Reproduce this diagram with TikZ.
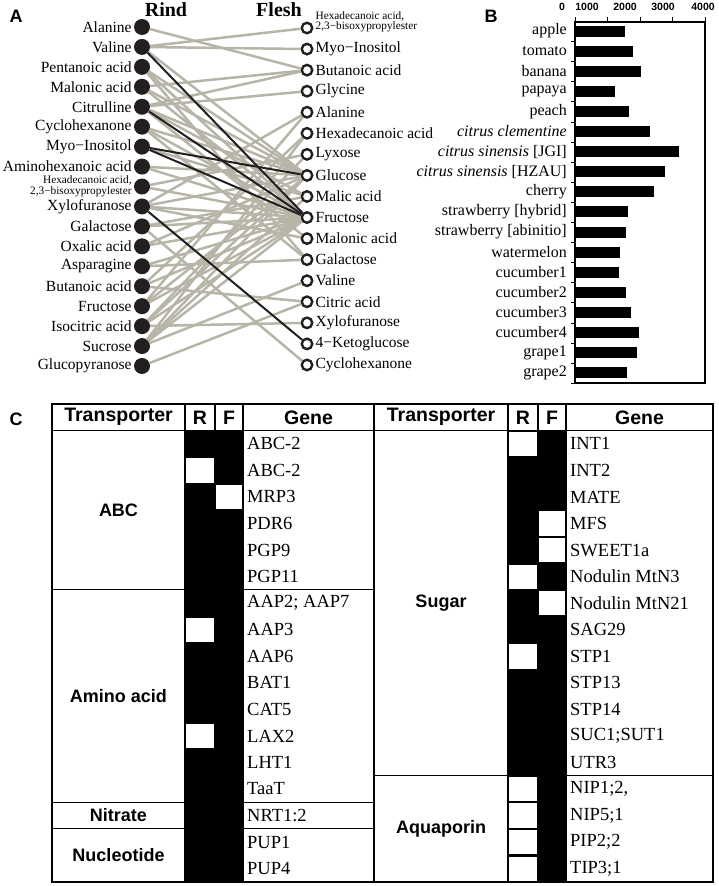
\documentclass[tikz,border=0pt]{standalone}
\usepackage{fontspec}
\setmainfont{Liberation Serif}
\setsansfont{Liberation Sans}
\usetikzlibrary{positioning}
\definecolor{dotc}{RGB}{35,31,32}
\definecolor{linec}{RGB}{183,181,168}
\tikzset{
  rdot/.style={circle, fill=dotc, inner sep=0pt, minimum size=16pt},
  fdot/.style={circle, draw=dotc, line width=2.4pt, fill=white, inner sep=0pt, minimum size=10.5pt},
  gline/.style={linec, line width=2.5pt},
  bline/.style={dotc, line width=2pt},
  lab/.style={font=\fontsize{15.5}{16}\selectfont, inner sep=1pt},
  smalllab/.style={font=\fontsize{11.3}{10.5}\selectfont, inner sep=1pt},
  head/.style={font=\bfseries\fontsize{20}{20}\selectfont},
  panel/.style={font=\sffamily\bfseries\fontsize{18}{18}\selectfont},
  blab/.style={font=\fontsize{16}{16}\selectfont, inner sep=0pt, anchor=east},
  tick/.style={font=\sffamily\bfseries\fontsize{10.5}{10.5}\selectfont},
  hdr/.style={font=\sffamily\bfseries\fontsize{19.5}{19.5}\selectfont},
  grp/.style={font=\sffamily\bfseries\fontsize{18}{18}\selectfont},
  gene/.style={font=\fontsize{18.5}{19}\selectfont, anchor=west, inner sep=0pt},
  wcell/.style={fill=white, draw=black, line width=0.8pt},
}
\begin{document}
\begin{tikzpicture}[x=1pt, y=-1pt]
  \useasboundingbox (0,0) rectangle (719,886);
  % --- A: rind / flesh network ---
  \node[panel] (pa) at (16,16) {A};
  \node[head] (rind) at (166,10) {Rind};
  \node[head] (flesh) at (279,10) {Flesh};
  \foreach \i in {1,...,18}
    \node[rdot] (r\i) at (142, {27+19.94*(\i-1)}) {};
  \foreach \i in {1,...,17}
    \node[fdot] (f\i) at (307, {28+21.06*(\i-1)}) {};
  % rind labels, left of the dots
  \foreach \i/\name in {1/Alanine, 2/Valine, 3/Pentanoic acid, 4/Malonic acid,
      5/Citrulline, 6/Cyclohexanone, 7/Myo−Inositol, 8/Aminohexanoic acid,
      10/Xylofuranose, 11/Galactose, 12/Oxalic acid, 13/Asparagine,
      14/Butanoic acid, 15/Fructose, 16/Isocitric acid, 17/Sucrose, 18/Glucopyranose}
    \node[lab, left=1pt of r\i] (rl\i) {\name};
  \node[smalllab, align=right, left=1pt of r9] (rl9) {Hexadecanoic acid,\\2,3−bisoxypropylester};
  % flesh labels, right of the circles
  \foreach \i/\name in {2/Myo−Inositol, 3/Butanoic acid, 4/Glycine, 5/Alanine,
      6/Hexadecanoic acid, 7/Lyxose, 8/Glucose, 9/Malic acid, 10/Fructose,
      11/Malonic acid, 12/Galactose, 13/Valine, 14/Citric acid, 15/Xylofuranose,
      16/4−Ketoglucose, 17/Cyclohexanone}
    \node[lab, right=1pt of f\i] (fl\i) {\name};
  \node[smalllab, align=left, right=1pt of f1, yshift=6pt] (fl1) {Hexadecanoic acid,\\2,3−bisoxypropylester};
  % correlations: grey first, black on top
  \foreach \a/\b in {1/3, 2/1, 2/2, 2/8, 3/8, 3/10, 3/12, 4/3, 4/8, 4/10,
      5/3, 5/4, 5/8, 5/9, 5/11, 6/8, 6/10, 6/12, 7/9, 8/8, 8/10, 9/7, 9/10,
      10/5, 10/8, 10/10, 10/11, 11/9, 11/10, 11/17, 12/8, 12/10, 13/10, 13/12,
      14/6, 14/10, 14/14, 15/5, 15/8, 15/10, 16/7, 16/8, 16/10, 16/15,
      17/6, 17/8, 17/9, 17/10, 17/13, 18/14}
    \draw[gline] (r\a) -- (f\b);
  \foreach \a/\b in {2/10, 5/10, 7/8, 7/10, 10/16}
    \draw[bline] (r\a) -- (f\b);

  % --- B: gene counts ---
  \node[panel] (pb) at (491,16) {B};
  \foreach \x/\t in {562/0, 587/1000, 625/2000, 663/3000, 703/4000}
    \node[tick] (t\t) at (\x,7) {\t};
  \foreach \k in {0,...,4}
    \draw[line width=1pt] ({575+32.5*\k},22) -- ({575+32.5*\k},17);
  \foreach \k in {1,...,18}
    \draw[line width=1pt] (575,{21.5+20.1*\k}) -- (571,{21.5+20.1*\k});
  \foreach \lab/\val [count=\i] in {apple/1500, tomato/1750, banana/2000,
      papaya/1200, peach/1630, {\textit{citrus clementine}}/2280,
      {\textit{citrus sinensis} [JGI]}/3170, {\textit{citrus sinensis} [HZAU]}/2740,
      cherry/2400, {strawberry [hybrid]}/1600, {strawberry [abinitio]}/1540,
      watermelon/1350, cucumber1/1320, cucumber2/1540, cucumber3/1690,
      cucumber4/1940, grape1/1870, grape2/1570} {
    \fill (576,{31+20.1*(\i-1)-5.5}) rectangle ({576+\val*0.0325},{31+20.1*(\i-1)+5.5});
    \node[blab] (bl\i) at (567,{31+20.1*(\i-1)}) {\lab};
  }
  \draw[line width=1.5pt] (575,22) rectangle (705,383);

  % --- C: transporter table ---
  \node[panel] (pc) at (16,419) {C};
  % R/F columns: black, then white cells
  \fill (185,430.55) rectangle (243,882);
  \fill (508,430.55) rectangle (566,882);
  \foreach \cx/\w/\r in {185/30/2, 185/30/8, 185/30/12, 215/28/3,
      508/30/1, 508/30/6, 508/30/9, 508/30/14, 508/30/15, 508/30/16, 508/30/17,
      538/28/4, 538/28/5, 538/28/7}
    \draw[wcell] ({\cx+0.6},{404+26.55*\r+0.6}) rectangle ++({\w-1.2},25.35);
  % grid
  \draw[line width=1.2pt] (52,430.55) -- (713,430.55);
  \foreach \x in {185,215,243,374,508,538,566}
    \draw[line width=1.2pt] (\x,404) -- (\x,882);
  \foreach \r in {7,15,16}
    \draw[line width=1.2pt] (52,{404+26.55*\r}) -- (374,{404+26.55*\r});
  \draw[line width=1.2pt] (374,{404+26.55*14}) -- (713,{404+26.55*14});
  \draw[line width=2.2pt] (52,404) rectangle (713,882);
  % header
  \foreach \x/\t [count=\i] in {118.5/Transporter, 200/R, 229/F, 308.5/Gene,
      441/Transporter, 523/R, 552/F, 639.5/Gene}
    \node[hdr] (h\i) at (\x,417.3) {\t};
  % transporter groups
  \node[grp] (gabc) at (118.5,{404+26.55*4}) {ABC};
  \node[grp] (gamino) at (118.5,{404+26.55*11}) {Amino acid};
  \node[grp] (gnit) at (118.5,{404+26.55*15.5}) {Nitrate};
  \node[grp] (gnuc) at (118.5,{404+26.55*17}) {Nucleotide};
  \node[grp] (gsug) at (441,{404+26.55*7.5}) {Sugar};
  \node[grp] (gaqua) at (441,{404+26.55*16}) {Aquaporin};
  % genes
  \foreach \g [count=\i] in {ABC-2, ABC-2, MRP3, PDR6, PGP9, PGP11,
      AAP2; AAP7, AAP3, AAP6, BAT1, CAT5, LAX2, LHT1, TaaT, NRT1:2, PUP1, PUP4}
    \node[gene] (gl\i) at (247,{404+26.55*(\i+0.5)}) {\g};
  \foreach \g [count=\i] in {INT1, INT2, MATE, MFS, SWEET1a, Nodulin MtN3,
      Nodulin MtN21, SAG29, STP1, STP13, STP14, SUC1;SUT1, UTR3, {NIP1;2,},
      NIP5;1, PIP2;2, TIP3;1}
    \node[gene] (gr\i) at (570,{404+26.55*(\i+0.5)}) {\g};
\end{tikzpicture}
\end{document}
